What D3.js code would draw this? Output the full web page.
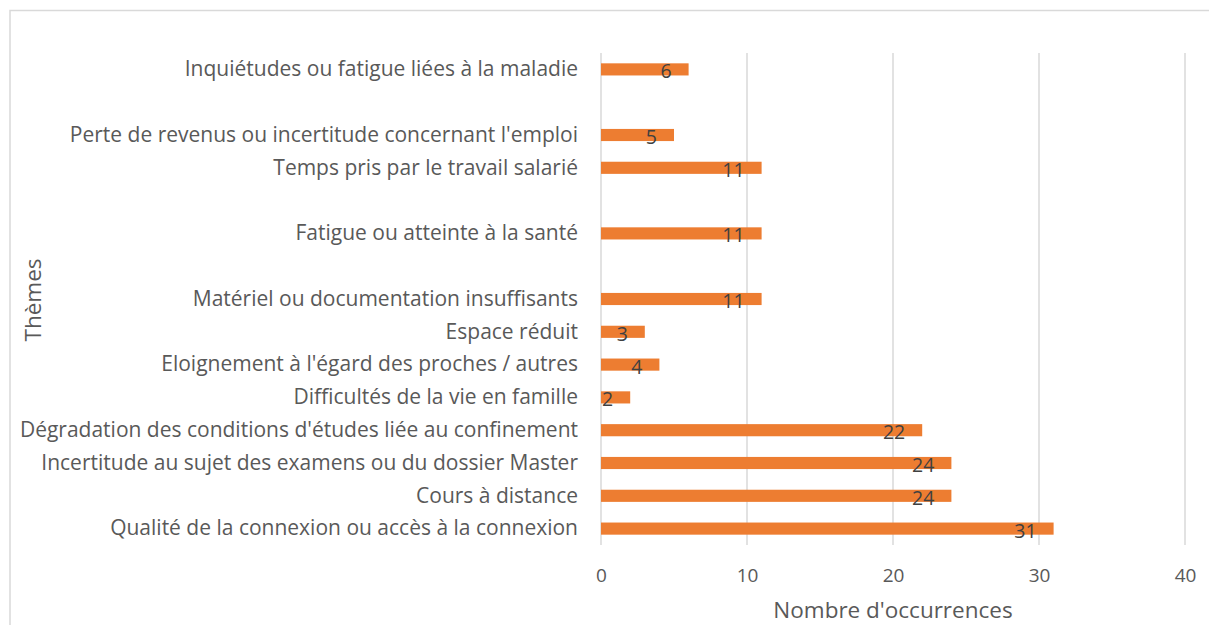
<!DOCTYPE html>
<html>
<head>
<meta charset="utf-8">
<script src="https://cdn.jsdelivr.net/npm/d3@7"></script>
<style>
  body { margin: 0; background: #fff; }
  svg { display: block; font-family: "Open Sans", "Liberation Sans", sans-serif; }
</style>
</head>
<body>
<svg id="chart" width="1209" height="625"></svg>
<script>
// categories, top to bottom (empty strings are the blank rows of the original)
const themes = [
  "Inquiétudes ou fatigue liées à la maladie",
  "",
  "Perte de revenus ou incertitude concernant l'emploi",
  "Temps pris par le travail salarié",
  "",
  "Fatigue ou atteinte à la santé",
  "",
  "Matériel ou documentation insuffisants",
  "Espace réduit",
  "Eloignement à l'égard des proches / autres",
  "Difficultés de la vie en famille",
  "Dégradation des conditions d'études liée au confinement",
  "Incertitude au sujet des examens ou du dossier Master",
  "Cours à distance",
  "Qualité de la connexion ou accès à la connexion"
];
const occurrences = [6, null, 5, 11, null, 11, null, 11, 3, 4, 2, 22, 24, 24, 31];
const xTicks = [0, 10, 20, 30, 40];

const svg = d3.select('#chart');

const config = {
  'left': 601,
  'right': 1185,
  'top': 53,
  'bottom': 545,
  'bar': '#ED7D31',
  'grid': '#d9d9d9',
  'label': '#595959',
  'value': '#404040'
};

// outer frame
svg.append('rect')
  .attr('x', 10).attr('y', 10.5)
  .attr('width', 1220).attr('height', 640)
  .attr('fill', 'none')
  .attr('stroke', config['grid'])
  .attr('stroke-width', 1.5);

const x = d3.scaleLinear().domain([0, 40]).range([config['left'], config['right']]);
const y = d3.scaleBand()
  .domain(themes.map((d, i) => i))
  .range([config['top'], config['bottom']])
  .paddingInner(0.63)
  .paddingOuter(0.315);

// gridlines
svg.append('g')
  .selectAll('line')
  .data(xTicks)
  .enter()
  .append('line')
  .attr('x1', d => x(d)).attr('x2', d => x(d))
  .attr('y1', config['top']).attr('y2', config['bottom'])
  .attr('stroke', config['grid'])
  .attr('stroke-width', 1.5);

// x axis tick labels
const xAxis = svg.append('g')
  .attr('transform', `translate(0, ${config['bottom']})`)
  .call(d3.axisBottom(x).tickValues(xTicks).tickSize(0).tickPadding(24));
xAxis.select('.domain').remove();
xAxis.selectAll('text')
  .attr('font-size', 19)
  .attr('fill', config['label'])
  .style('font-family', '"Open Sans", sans-serif');

// category labels
const yAxis = svg.append('g')
  .attr('transform', `translate(${config['left']}, 0)`)
  .call(d3.axisLeft(y).tickFormat(i => themes[i]).tickSize(0).tickPadding(23));
yAxis.select('.domain').remove();
yAxis.selectAll('text')
  .attr('font-size', 21)
  .attr('fill', config['label'])
  .style('font-family', '"Open Sans", sans-serif');

// bars
const rows = themes.map((t, i) => ({ i, v: occurrences[i] })).filter(d => d.v !== null);

svg.append('g')
  .selectAll('rect')
  .data(rows)
  .enter()
  .append('rect')
  .attr('x', x(0))
  .attr('y', d => y(d.i))
  .attr('width', d => x(d.v) - x(0))
  .attr('height', y.bandwidth())
  .attr('fill', config['bar']);

// value labels
svg.append('g')
  .selectAll('text')
  .data(rows)
  .enter()
  .append('text')
  .attr('x', d => x(d.v) - 17)
  .attr('y', d => y(d.i) + y.bandwidth() / 2 + 9)
  .attr('text-anchor', 'end')
  .attr('font-size', 19.5)
  .attr('fill', config['value'])
  .text(d => d.v);

// axis titles
svg.append('text')
  .attr('x', x(20))
  .attr('y', 618)
  .attr('text-anchor', 'middle')
  .attr('font-size', 22.5)
  .attr('fill', config['label'])
  .text("Nombre d'occurrences");

svg.append('text')
  .attr('transform', 'translate(41, 300) rotate(-90)')
  .attr('text-anchor', 'middle')
  .attr('font-size', 22.5)
  .attr('fill', config['label'])
  .text('Thèmes');
</script>
</body>
</html>
